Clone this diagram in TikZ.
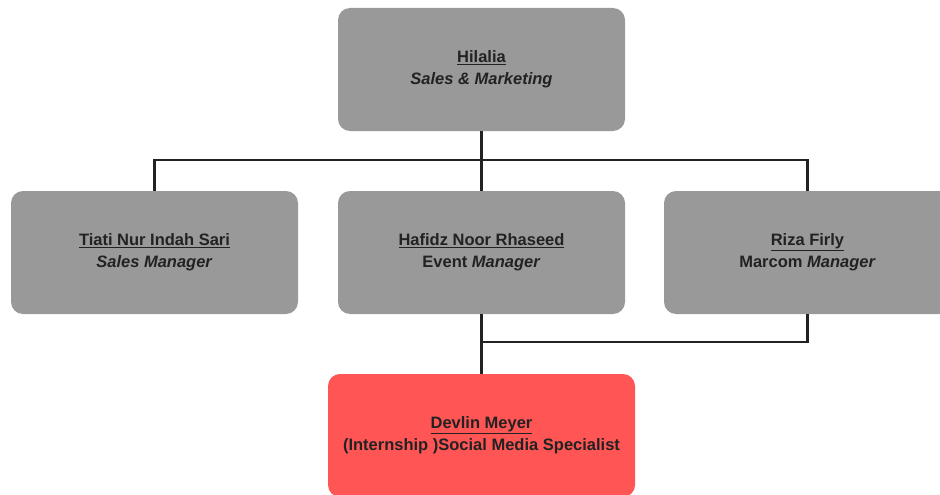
\documentclass[tikz,border=0pt]{standalone}
\usepackage{fontspec}
\setmainfont{Liberation Sans}
\definecolor{boxgray}{HTML}{999999}
\definecolor{boxred}{HTML}{FF5555}
\definecolor{inkdark}{HTML}{222222}
\tikzset{
  person/.style={fill=boxgray, rounded corners=12pt, minimum width=287pt, minimum height=123pt,
    align=center, text=inkdark, font=\fontsize{16.5}{22}\selectfont\bfseries},
  link/.style={line width=2.5pt, draw=inkdark}
}
\begin{document}
\begin{tikzpicture}[x=1pt,y=-1pt]
\useasboundingbox (0,0) rectangle (940,495);
\node [person] (head) at (481.5,69.5) {\underline{Hilalia}\\\textit{Sales \& Marketing}};
\node [person] (sales) at (154.5,252.5) {\underline{Tiati Nur Indah Sari}\\\textit{Sales Manager}};
\node [person] (event) at (481.5,252.5) {\underline{Hafidz Noor Rhaseed}\\Event \textit{Manager}};
\node [person] (marcom) at (807.5,252.5) {\underline{Riza Firly}\\Marcom \textit{Manager}};
\node [person, fill=boxred, minimum width=307pt] (intern) at (481.5,435.5) {\underline{Devlin Meyer}\\(Internship )Social Media Specialist};
\coordinate (bus) at (481.5,160);
\coordinate (lowbus) at (481.5,342);
\draw [link] (head.south) -- (event.north);
\draw [link] (sales.north) |- (bus) -| (marcom.north);
\draw [link] (event.south) -- (intern.north);
\draw [link] (lowbus) -| (marcom.south);
\end{tikzpicture}
\end{document}
